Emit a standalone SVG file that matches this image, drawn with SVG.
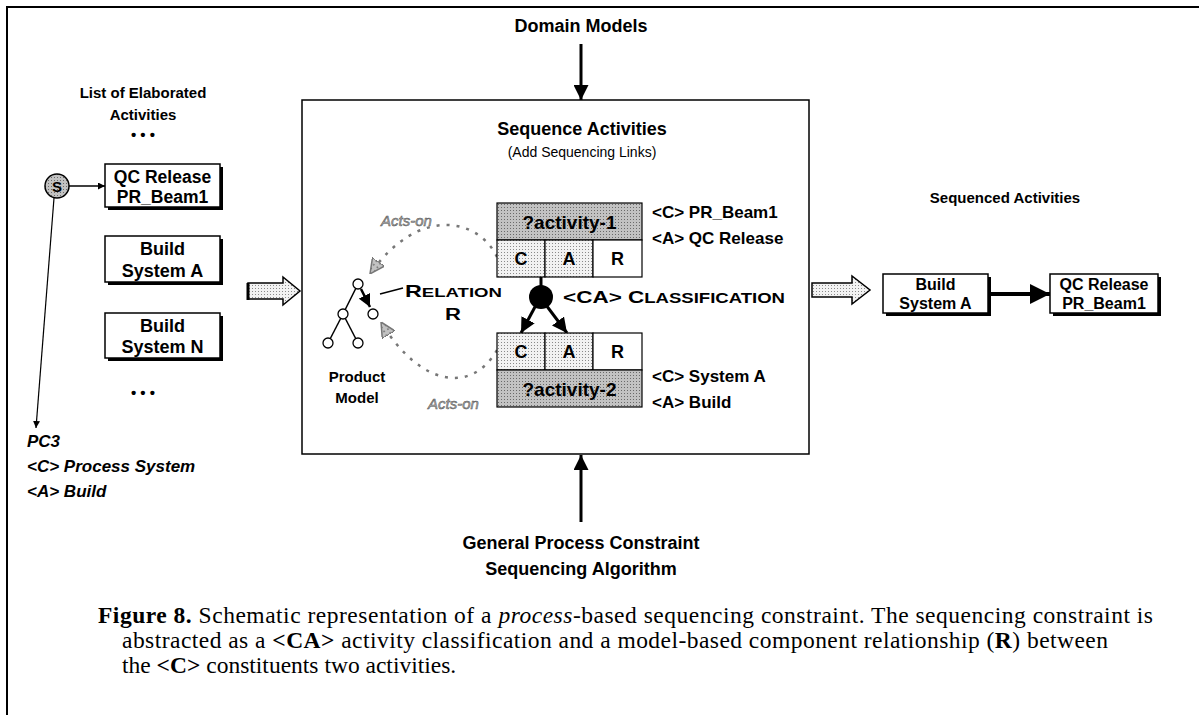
<svg xmlns="http://www.w3.org/2000/svg" width="1199" height="715" viewBox="0 0 1199 715">
  <defs>
    <pattern id="stipDark" width="3" height="3" patternUnits="userSpaceOnUse">
      <rect width="3" height="3" fill="#c2c2c2"/>
      <rect width="1" height="1" fill="#6a6a6a"/>
    </pattern>
    <pattern id="stipLight" width="3" height="3" patternUnits="userSpaceOnUse">
      <rect width="3" height="3" fill="#f2f2f2"/>
      <rect width="1" height="1" fill="#8a8a8a"/>
    </pattern>
    <marker id="head" viewBox="0 0 10 10" refX="10" refY="5" markerWidth="7" markerHeight="7" markerUnits="userSpaceOnUse" orient="auto">
      <path d="M0,0 L10,5 L0,10 z" fill="#000"/>
    </marker>
    <marker id="headBig" viewBox="0 0 10 10" refX="10" refY="5" markerWidth="5" markerHeight="5" orient="auto">
      <path d="M0,0 L10,5 L0,10 z" fill="#000"/>
    </marker>
    <marker id="headGray" viewBox="0 0 10 10" refX="10" refY="5" markerWidth="6" markerHeight="6" orient="auto">
      <path d="M0,0 L10,5 L0,10 z" fill="url(#stipDark)" stroke="#777" stroke-width="1"/>
    </marker>
  </defs>
  <style>
    .b { font-family: "Liberation Sans", Arial, sans-serif; font-weight: bold; fill: #000; }
    .t { font-family: "Liberation Sans", Arial, sans-serif; fill: #000; }
    .bi { font-family: "Liberation Sans", Arial, sans-serif; font-weight: bold; font-style: italic; fill: #000; }
    .cap { font-family: "Liberation Serif", "Times New Roman", serif; font-size: 23.5px; fill: #000; }
    .box { fill: #fff; stroke: #000; stroke-width: 1.5; }
    .shadow { fill: #000; }
    .line { stroke: #000; fill: none; }
    .acts { stroke: #777; stroke-width: 2.5; stroke-dasharray: 3 7; fill: none; }
    .actsLbl { font-family: "Liberation Sans", Arial, sans-serif; font-style: italic; font-size: 15px; fill: #aaa; stroke: #555; stroke-width: 0.5; }
    .cell { stroke: #000; stroke-width: 1.2; }
    .node { fill: #fff; stroke: #000; stroke-width: 1.3; }
  </style>

  <rect width="1199" height="715" fill="#fff"/>
  <!-- page frame -->
  <path d="M7,715 L7,7 L1199,7" class="line" stroke-width="2"/>

  <!-- sequencing process frame (drawn under its contents) -->
  <g id="sequence-activities">
    <rect x="302" y="100" width="507" height="354" fill="#fff" stroke="#000" stroke-width="1.5"/>
    <text x="582" y="135" class="b" font-size="18" text-anchor="middle">Sequence Activities</text>
    <text x="582" y="157" class="t" font-size="14" text-anchor="middle">(Add Sequencing Links)</text>
  </g>

  <!-- connectors -->
  <g id="connectors">
    <line x1="581" y1="44" x2="581" y2="100" class="line" stroke-width="3" marker-end="url(#headBig)"/>
    <line x1="581" y1="522" x2="581" y2="455" class="line" stroke-width="3" marker-end="url(#headBig)"/>
    <line x1="69" y1="186" x2="105" y2="186" class="line" stroke-width="1.5" marker-end="url(#head)"/>
    <line x1="54" y1="198" x2="36" y2="428" class="line" stroke-width="1.2" marker-end="url(#head)"/>
    <polygon points="248,283 283,283 283,277 300,291 283,305 283,299 248,299" fill="url(#stipLight)" stroke="#000" stroke-width="1.5"/>
    <line x1="248" y1="283" x2="248" y2="300" class="line" stroke-width="3"/>
    <polygon points="812,283 852,283 852,276 870,290 852,304 852,297 812,297" fill="url(#stipLight)" stroke="#000" stroke-width="1.5"/>
    <line x1="990" y1="294" x2="1050" y2="294" class="line" stroke-width="4" marker-end="url(#headBig)"/>
    <line x1="541" y1="277" x2="541" y2="290" class="line" stroke-width="3"/>
    <line x1="536" y1="305" x2="521" y2="333" class="line" stroke-width="3" marker-end="url(#headBig)"/>
    <line x1="546" y1="305" x2="567" y2="333" class="line" stroke-width="3" marker-end="url(#headBig)"/>
    <path d="M497,257 C480,220 420,203 370,274" class="acts" marker-end="url(#headGray)"/>
    <path d="M497,350 C472,394 420,387 381,322" class="acts" marker-end="url(#headGray)"/>
    <line x1="380" y1="294" x2="403" y2="288" class="line" stroke-width="1.3"/>
  </g>

  <!-- top and bottom inputs -->
  <g id="domain-models">
    <text x="581" y="32" class="b" font-size="18" text-anchor="middle">Domain Models</text>
  </g>
  <g id="general-constraint">
    <text x="581" y="549" class="b" font-size="18" text-anchor="middle">General Process Constraint</text>
    <text x="581" y="575" class="b" font-size="18" text-anchor="middle">Sequencing Algorithm</text>
  </g>

  <!-- elaborated activity list -->
  <g id="elaborated-list">
    <text x="143" y="98" class="b" font-size="15" text-anchor="middle">List of Elaborated</text>
    <text x="143" y="120" class="b" font-size="15" text-anchor="middle">Activities</text>
    <text x="143" y="140" class="b" font-size="15" text-anchor="middle">• • •</text>
    <text x="143" y="398" class="b" font-size="15" text-anchor="middle">• • •</text>
  </g>
  <g id="start-node">
    <circle cx="57" cy="186" r="12" fill="url(#stipDark)" stroke="#000" stroke-width="1.5"/>
    <text x="57" y="191.5" class="b" font-size="15" text-anchor="middle">S</text>
  </g>
  <g id="pc3-label">
    <text x="27" y="447" class="bi" font-size="17">PC3</text>
    <text x="27" y="472" class="bi" font-size="17">&lt;C&gt; Process System</text>
    <text x="27" y="497" class="bi" font-size="17">&lt;A&gt; Build</text>
  </g>
  <g id="qc-release-in">
    <rect x="108" y="167" width="115" height="43" class="shadow"/>
    <rect x="105" y="164" width="115" height="43" class="box"/>
    <text x="162.5" y="183" class="b" font-size="17.5" text-anchor="middle">QC Release</text>
    <text x="162.5" y="203" class="b" font-size="17.5" text-anchor="middle">PR_Beam1</text>
  </g>
  <g id="build-a-in">
    <rect x="108" y="239" width="115" height="46" class="shadow"/>
    <rect x="105" y="236" width="115" height="46" class="box"/>
    <text x="162.5" y="255" class="b" font-size="18" text-anchor="middle">Build</text>
    <text x="162.5" y="277" class="b" font-size="18" text-anchor="middle">System A</text>
  </g>
  <g id="build-n-in">
    <rect x="108" y="316" width="115" height="45" class="shadow"/>
    <rect x="105" y="313" width="115" height="45" class="box"/>
    <text x="162.5" y="332" class="b" font-size="18" text-anchor="middle">Build</text>
    <text x="162.5" y="353" class="b" font-size="18" text-anchor="middle">System N</text>
  </g>

  <g id="product-model">
    <line x1="358" y1="284" x2="343" y2="314" class="line" stroke-width="1.5"/>
    <line x1="343" y1="314" x2="328" y2="343" class="line" stroke-width="1.5"/>
    <line x1="343" y1="314" x2="358" y2="343" class="line" stroke-width="1.5"/>
    <line x1="361" y1="289" x2="370" y2="307" class="line" stroke-width="2.5" marker-end="url(#headBig)"/>
    <circle cx="358" cy="284" r="5" class="node"/>
    <circle cx="343" cy="314" r="5" class="node"/>
    <circle cx="373" cy="314" r="5" class="node"/>
    <circle cx="328" cy="343" r="5" class="node"/>
    <circle cx="358" cy="343" r="5" class="node"/>
    <text x="357" y="382" class="b" font-size="15" text-anchor="middle">Product</text>
    <text x="357" y="403" class="b" font-size="15" text-anchor="middle">Model</text>
  </g>
  <g id="relation-label">
    <text x="405" y="297" class="b" font-size="17" textLength="97" lengthAdjust="spacingAndGlyphs">R<tspan font-size="13.5">ELATION</tspan></text>
    <text x="453" y="320" class="b" font-size="17" text-anchor="middle" transform="translate(453 0) scale(1.3 1) translate(-453 0)">R</text>
  </g>
  <g id="acts-on-labels">
    <text x="381" y="226" class="actsLbl">Acts-on</text>
    <text x="428" y="409" class="actsLbl">Acts-on</text>
  </g>

  <g id="activity-1">
    <rect x="497" y="203" width="145" height="37" fill="url(#stipDark)" class="cell"/>
    <rect x="497" y="240" width="48" height="37" fill="url(#stipLight)" class="cell"/>
    <rect x="545" y="240" width="48" height="37" fill="url(#stipLight)" class="cell"/>
    <rect x="593" y="240" width="49" height="37" fill="#fff" class="cell"/>
    <text x="569.5" y="229" class="b" font-size="19" text-anchor="middle">?activity-1</text>
    <text x="521" y="265" class="b" font-size="18" text-anchor="middle">C</text>
    <text x="569" y="265" class="b" font-size="18" text-anchor="middle">A</text>
    <text x="617.5" y="265" class="b" font-size="18" text-anchor="middle">R</text>
    <text x="652" y="218" class="b" font-size="17">&lt;C&gt; PR_Beam1</text>
    <text x="652" y="244" class="b" font-size="17">&lt;A&gt; QC Release</text>
  </g>

  <g id="classification">
    <circle cx="541" cy="297" r="12" fill="#000"/>
    <text x="563" y="303" class="b" font-size="17" textLength="222" lengthAdjust="spacingAndGlyphs">&lt;CA&gt; C<tspan font-size="14">LASSIFICATION</tspan></text>
  </g>

  <g id="activity-2">
    <rect x="497" y="333" width="48" height="37" fill="url(#stipLight)" class="cell"/>
    <rect x="545" y="333" width="48" height="37" fill="url(#stipLight)" class="cell"/>
    <rect x="593" y="333" width="49" height="37" fill="#fff" class="cell"/>
    <rect x="497" y="370" width="145" height="37" fill="url(#stipDark)" class="cell"/>
    <text x="521" y="358" class="b" font-size="18" text-anchor="middle">C</text>
    <text x="569" y="358" class="b" font-size="18" text-anchor="middle">A</text>
    <text x="617.5" y="358" class="b" font-size="18" text-anchor="middle">R</text>
    <text x="569.5" y="396" class="b" font-size="19" text-anchor="middle">?activity-2</text>
    <text x="652" y="382" class="b" font-size="17">&lt;C&gt; System A</text>
    <text x="652" y="408" class="b" font-size="17">&lt;A&gt; Build</text>
  </g>

  <!-- sequenced output -->
  <g id="sequenced-label">
    <text x="1005" y="203" class="b" font-size="15" text-anchor="middle">Sequenced Activities</text>
  </g>
  <g id="build-a-out">
    <rect x="886" y="277" width="105" height="39" class="shadow"/>
    <rect x="883" y="274" width="105" height="39" class="box"/>
    <text x="935.5" y="290" class="b" font-size="16" text-anchor="middle">Build</text>
    <text x="935.5" y="309" class="b" font-size="16" text-anchor="middle">System A</text>
  </g>
  <g id="qc-release-out">
    <rect x="1053" y="277" width="108" height="39" class="shadow"/>
    <rect x="1050" y="274" width="108" height="39" class="box"/>
    <text x="1104" y="290" class="b" font-size="16" text-anchor="middle">QC Release</text>
    <text x="1104" y="309" class="b" font-size="16" text-anchor="middle">PR_Beam1</text>
  </g>

  <!-- caption -->
  <g id="caption">
    <text x="98" y="623" class="cap" textLength="1055"><tspan font-weight="bold">Figure 8.</tspan> Schematic representation of a <tspan font-style="italic">process</tspan>-based sequencing constraint. The sequencing constraint is</text>
    <text x="122" y="648" class="cap" textLength="986">abstracted as a <tspan font-weight="bold">&lt;CA&gt;</tspan> activity classification and a model-based component relationship (<tspan font-weight="bold">R</tspan>) between</text>
    <text x="122" y="673" class="cap">the <tspan font-weight="bold">&lt;C&gt;</tspan> constituents two activities.</text>
  </g>
</svg>
